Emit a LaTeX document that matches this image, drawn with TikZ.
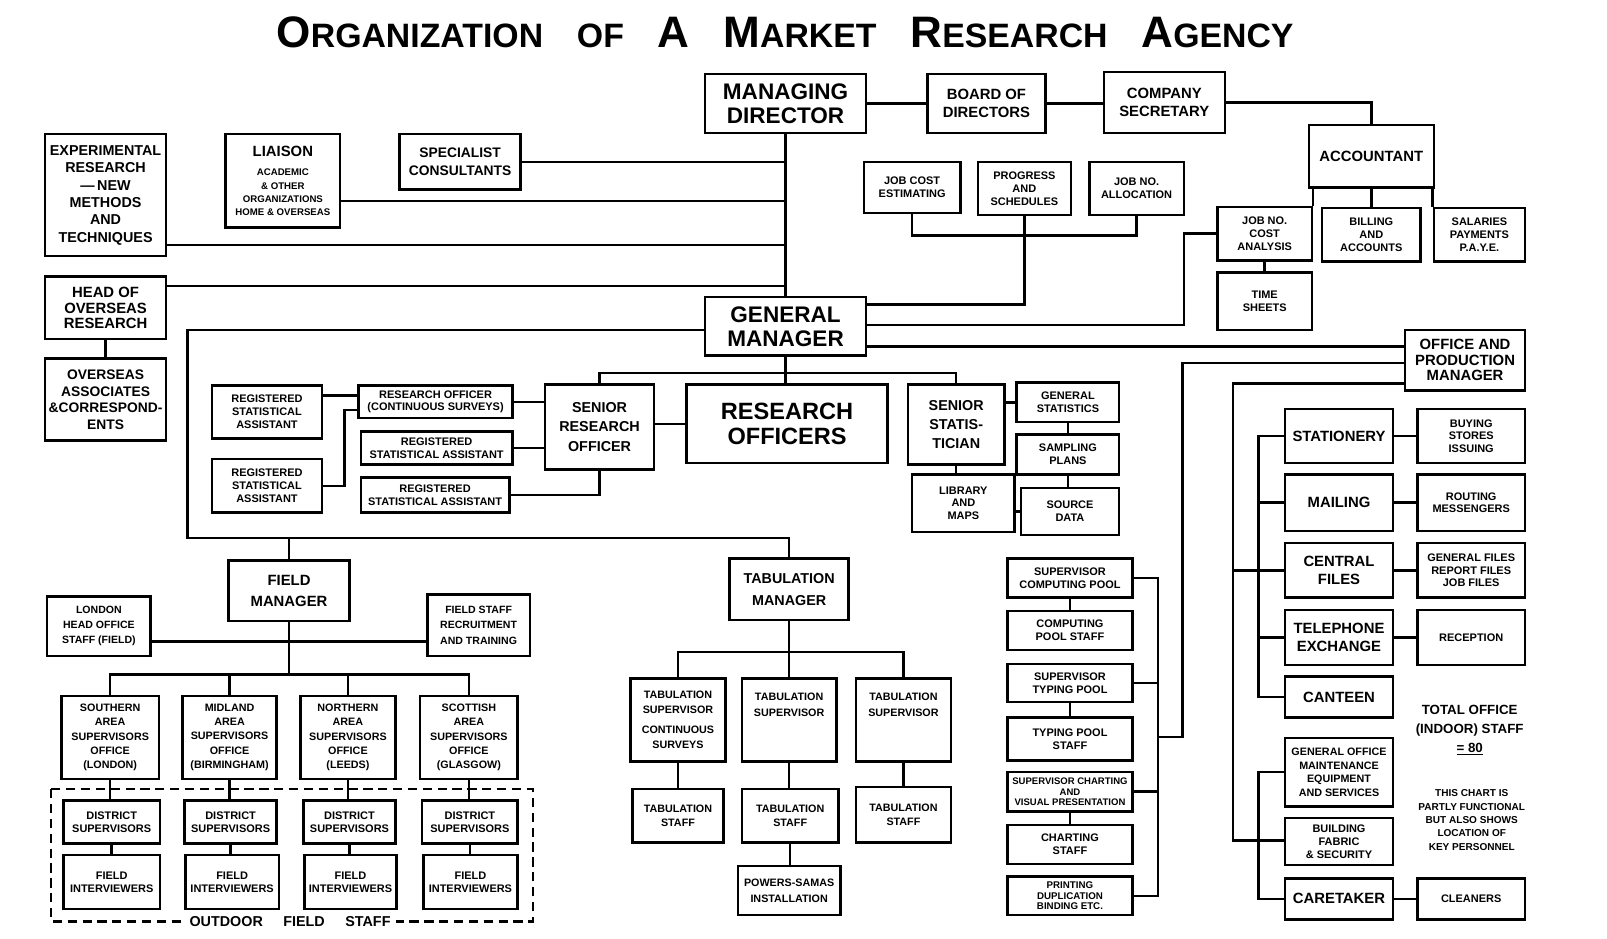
\documentclass[tikz,border=0pt]{standalone}
\usepackage{fontspec}
\setmainfont{Liberation Sans}
\newcommand\fbig{\fontsize{22}{23.5}\selectfont}
\newcommand\fmid{\fontsize{14.5}{17}\selectfont}
\newcommand\fsml{\fontsize{10.7}{12.5}\selectfont}
\newcommand\ftny{\fontsize{9.4}{13}\selectfont}
\newcommand\tcap[1]{{\fontsize{43}{43}\selectfont #1}}
\tikzset{
    box/.style={draw, line width=2.4pt, align=center, inner sep=1pt, font=\bfseries\fsml},
    bigtext/.style={font=\bfseries\fbig},
    midtext/.style={font=\bfseries\fmid},
    areabox/.style={box, font=\bfseries\fontsize{10.5}{13.8}\selectfont},
    sz/.style 2 args={minimum width=#1, minimum height=#2},
    link/.style={line width=2.4pt},
    fieldline/.style={line width=2.4pt, dash pattern=on 9pt off 5.5pt},
}

\begin{document}
\begin{tikzpicture}[x=1pt, y=-1pt]
    \path[use as bounding box, fill=white] (0,0) rectangle (1568,916);

    \node[font=\bfseries\fontsize{33}{33}\selectfont] (title) at (766,32)
        {\tcap{O}RGANIZATION\hspace{33pt}OF\hspace{33pt}\tcap{A}\hspace{33pt}\tcap{M}ARKET\hspace{33pt}\tcap{R}ESEARCH\hspace{33pt}\tcap{A}GENCY};

    % directors and accounts
    \node[box, bigtext, sz={157}{58}] (md) at (766.5,101) {MANAGING\\DIRECTOR};
    \node[box, midtext, sz={115}{58}] (board) at (962.5,101) {BOARD OF\\DIRECTORS};
    \node[box, midtext, sz={118}{60}] (cs) at (1136,100) {COMPANY\\SECRETARY};
    \node[box, midtext, sz={122}{61}] (acct) at (1338,152.5) {ACCOUNTANT};
    \node[box, sz={92}{52}] (jnc) at (1234,228) {JOB NO.\\COST\\ANALYSIS};
    \node[box, sz={96}{52}] (bill) at (1338,229) {BILLING\\AND\\ACCOUNTS};
    \node[box, sz={89}{52}] (sal) at (1443.5,229) {SALARIES\\PAYMENTS\\P.A.Y.E.};
    \node[box, sz={92}{56}] (tsh) at (1234,294) {TIME\\SHEETS};
    \node[box, sz={94}{50}] (jce) at (890,183) {JOB COST\\ESTIMATING};
    \node[box, sz={91}{52}] (prog) at (999.5,184) {PROGRESS\\AND\\SCHEDULES};
    \node[box, sz={92}{52}] (jna) at (1109,184) {JOB NO.\\ALLOCATION};

    % staff to the managing director
    \node[box, font=\bfseries\fontsize{13.5}{17}\selectfont, sz={118}{54}] (spec) at (449,158) {SPECIALIST\\CONSULTANTS};
    \node[box, font=\bfseries\ftny, sz={112}{91}] (lia) at (276,176.5) {{\fmid LIAISON}\\[6pt]ACADEMIC\\\& OTHER\\ORGANIZATIONS\\HOME \& OVERSEAS};
    \node[box, font=\bfseries\fontsize{14}{17}\selectfont, sz={118}{119}] (exp) at (103,190.5) {EXPERIMENTAL\\RESEARCH\\---\,NEW\\METHODS\\AND\\TECHNIQUES};
    \node[box, font=\bfseries\fontsize{14.5}{15.5}\selectfont, sz={118}{61}] (hoo) at (103,300.5) {HEAD OF\\OVERSEAS\\RESEARCH};
    \node[box, font=\bfseries\fontsize{13.5}{16}\selectfont, sz={118}{80}] (oa) at (103,390) {OVERSEAS\\ASSOCIATES\\\&CORRESPOND-\\ENTS};

    % research
    \node[box, bigtext, sz={157}{57}] (gm) at (766.5,318.5) {GENERAL\\MANAGER};
    \node[box, font=\bfseries\fontsize{23}{25}\selectfont, sz={196}{77}] (ro) at (768,413.5) {RESEARCH\\OFFICERS};
    \node[box, font=\bfseries\fontsize{14}{19}\selectfont, sz={106}{83}] (sro) at (585,416.5) {SENIOR\\RESEARCH\\OFFICER};
    \node[box, font=\bfseries\fontsize{14}{18.5}\selectfont, sz={94}{78}] (ss) at (933,414) {SENIOR\\STATIS-\\TICIAN};
    \node[box, sz={150}{32}] (roc) at (425,392) {RESEARCH OFFICER\\(CONTINUOUS SURVEYS)};
    \node[box, sz={148}{32}] (rsam) at (426,437) {REGISTERED\\STATISTICAL ASSISTANT};
    \node[box, sz={145}{34}] (rsab) at (424.5,483) {REGISTERED\\STATISTICAL ASSISTANT};
    \node[box, sz={107}{52}] (rsal1) at (260.5,402) {REGISTERED\\STATISTICAL\\ASSISTANT};
    \node[box, sz={107}{52}] (rsal2) at (260.5,474) {REGISTERED\\STATISTICAL\\ASSISTANT};
    \node[box, sz={100}{39}] (gs) at (1042,392.5) {GENERAL\\STATISTICS};
    \node[box, sz={100}{39}] (sp) at (1042,443.5) {SAMPLING\\PLANS};
    \node[box, sz={100}{56}] (lib) at (940,491) {LIBRARY\\AND\\MAPS};
    \node[box, sz={96}{46}] (sd) at (1044,499) {SOURCE\\DATA};

    % office
    \node[box, font=\bfseries\fontsize{14.5}{15}\selectfont, sz={117}{59}] (om) at (1429.5,351.5) {OFFICE AND\\PRODUCTION\\MANAGER};
    \node[box, midtext, sz={105}{53}] (stat) at (1306.5,425.5) {STATIONERY};
    \node[box, sz={105}{53}] (buy) at (1435.5,425.5) {BUYING\\STORES\\ISSUING};
    \node[box, midtext, sz={105}{55}] (mail) at (1306.5,490.5) {MAILING};
    \node[box, sz={105}{55}] (rout) at (1435.5,490.5) {ROUTING\\MESSENGERS};
    \node[box, midtext, sz={105}{53}] (cf) at (1306.5,556.5) {CENTRAL\\FILES};
    \node[box, sz={105}{53}] (gf) at (1435.5,556.5) {GENERAL FILES\\REPORT FILES\\JOB FILES};
    \node[box, midtext, sz={105}{54}] (tel) at (1306.5,622) {TELEPHONE\\EXCHANGE};
    \node[box, sz={105}{54}] (rec) at (1435.5,622) {RECEPTION};
    \node[box, midtext, sz={105}{40}] (can) at (1306.5,680) {CANTEEN};
    \node[box, font=\bfseries\fontsize{10.5}{13.5}\selectfont, sz={105}{67}] (gom) at (1306.5,753.5) {GENERAL OFFICE\\MAINTENANCE\\EQUIPMENT\\AND SERVICES};
    \node[box, sz={105}{46}] (bf) at (1306.5,821) {BUILDING\\FABRIC\\\& SECURITY};
    \node[box, midtext, sz={105}{40}] (ct) at (1306.5,877) {CARETAKER};
    \node[box, sz={105}{40}] (cln) at (1435.5,877) {CLEANERS};
    \node[font=\bfseries\fontsize{13}{18.5}\selectfont, align=center] (tot) at (1434,712) {TOTAL OFFICE\\(INDOOR) STAFF\\\underline{= 80}};
    \node[font=\bfseries\fontsize{9.8}{13}\selectfont, align=center] (note) at (1436,800) {THIS CHART IS\\PARTLY FUNCTIONAL\\BUT ALSO SHOWS\\LOCATION OF\\KEY PERSONNEL};

    % pools
    \node[box, sz={122}{38}] (scp) at (1044,564) {SUPERVISOR\\COMPUTING POOL};
    \node[box, sz={122}{38}] (cps) at (1044,615) {COMPUTING\\POOL STAFF};
    \node[box, sz={122}{37}] (stp) at (1044,666.5) {SUPERVISOR\\TYPING POOL};
    \node[box, sz={122}{42}] (tps) at (1044,721) {TYPING POOL\\STAFF};
    \node[box, font=\bfseries\fontsize{9.3}{10.5}\selectfont, sz={122}{39}] (sch) at (1044,772.5) {SUPERVISOR CHARTING\\AND\\VISUAL PRESENTATION};
    \node[box, sz={122}{38}] (chs) at (1044,824) {CHARTING\\STAFF};
    \node[box, font=\bfseries\fontsize{9.5}{10.5}\selectfont, sz={122}{38}] (pr) at (1044,874) {PRINTING\\DUPLICATION\\BINDING ETC.};

    % field
    \node[box, font=\bfseries\fontsize{14.5}{20}\selectfont, sz={118}{59}] (fm) at (282,576.5) {FIELD\\MANAGER};
    \node[box, font=\bfseries\fontsize{10.3}{14.5}\selectfont, sz={101}{58}] (lho) at (96.5,611) {LONDON\\HEAD OFFICE\\STAFF (FIELD)};
    \node[box, font=\bfseries\fontsize{10.3}{15}\selectfont, sz={100}{60}] (fsr) at (467,610) {FIELD STAFF\\RECRUITMENT\\AND TRAINING};
    \node[areabox, sz={95}{81}] (sa) at (107.5,719.5) {SOUTHERN\\AREA\\SUPERVISORS\\OFFICE\\(LONDON)};
    \node[areabox, sz={92}{81}] (ma) at (224,719.5) {MIDLAND\\AREA\\SUPERVISORS\\OFFICE\\(BIRMINGHAM)};
    \node[areabox, sz={93}{81}] (na) at (339.5,719.5) {NORTHERN\\AREA\\SUPERVISORS\\OFFICE\\(LEEDS)};
    \node[areabox, sz={95}{81}] (sca) at (457.5,719.5) {SCOTTISH\\AREA\\SUPERVISORS\\OFFICE\\(GLASGOW)};
    \node[box, sz={94}{42}] (ds1) at (109,802) {DISTRICT\\SUPERVISORS};
    \node[box, sz={90}{42}] (ds2) at (225,802) {DISTRICT\\SUPERVISORS};
    \node[box, sz={90}{42}] (ds3) at (341,802) {DISTRICT\\SUPERVISORS};
    \node[box, sz={93}{42}] (ds4) at (458.5,802) {DISTRICT\\SUPERVISORS};
    \node[box, sz={94}{53}] (fi1) at (109,860.5) {FIELD\\INTERVIEWERS};
    \node[box, sz={91}{53}] (fi2) at (226.5,860.5) {FIELD\\INTERVIEWERS};
    \node[box, sz={90}{53}] (fi3) at (342,860.5) {FIELD\\INTERVIEWERS};
    \node[box, sz={92}{53}] (fi4) at (459,860.5) {FIELD\\INTERVIEWERS};

    % tabulation
    \node[box, font=\bfseries\fontsize{14}{21}\selectfont, sz={116}{60}] (tm) at (770,575) {TABULATION\\MANAGER};
    \node[box, font=\bfseries\fontsize{10.5}{15}\selectfont, sz={93}{81}] (ts1) at (661.5,702.5) {TABULATION\\SUPERVISOR\\[4pt]CONTINUOUS\\SURVEYS};
    \node[box, font=\bfseries\fontsize{10.5}{15}\selectfont, text depth=30pt, sz={92}{81}] (ts2) at (770,702.5) {TABULATION\\SUPERVISOR};
    \node[box, font=\bfseries\fontsize{10.5}{15}\selectfont, text depth=30pt, sz={93}{81}] (ts3) at (881.5,702.5) {TABULATION\\SUPERVISOR};
    \node[box, font=\bfseries\fontsize{10.5}{14}\selectfont, sz={89}{52}] (tst1) at (661.5,796) {TABULATION\\STAFF};
    \node[box, font=\bfseries\fontsize{10.5}{14}\selectfont, sz={94}{52}] (tst2) at (771,796) {TABULATION\\STAFF};
    \node[box, font=\bfseries\fontsize{10.5}{14}\selectfont, sz={93}{54}] (tst3) at (881.5,795) {TABULATION\\STAFF};
    \node[box, font=\bfseries\fontsize{10.5}{16}\selectfont, sz={100}{48}] (ps) at (770,869) {POWERS-SAMAS\\INSTALLATION};

    \coordinate (jbus) at (0,230);
    \coordinate (pbus) at (0,297);
    \coordinate (gbus) at (0,317);
    \coordinate (obus) at (0,338);
    \coordinate (jbend) at (1155,0);
    \coordinate (lbus) at (183,525);
    \coordinate (rbus) at (0,364);
    \coordinate (rj) at (336,400);
    \coordinate (cj) at (1154,719);
    \coordinate (cv) at (1130,0);
    \coordinate (ov) at (1203,820);
    \coordinate (iv) at (1228,0);
    \coordinate (fbus) at (0,658);
    \coordinate (tbus) at (0,636);

    \draw[link] (md) -- (board);
    \draw[link] (board.east) -- (board.east -| cs.west);
    \draw[link] (cs.east) -| (acct.north);
    \draw[link] (jnc.north east) -- (jnc.north east |- acct.south);
    \draw[link] (acct.south) -- (bill.north);
    \draw[link] (sal.north west) -- (sal.north west |- acct.south);
    \draw[link] (jnc) -- (tsh);
    \draw[link] (jce.south) -- (jce.south |- jbus) -- (jna.south |- jbus) -- (jna.south);
    \draw[link] (prog.south) |- (gm.east |- pbus);
    \draw[link] (gm.east |- gbus) -| (jbend |- jnc.west) -- (jnc.west);
    \draw[link] (gm.east |- obus) -- (om.west |- obus);
    \draw[link] (md) -- (gm);
    \draw[link] (spec.east) -- (spec.east -| md);
    \draw[link] (lia.east |- 0,196) -- (md |- 0,196);
    \draw[link] (exp.east |- 0,239) -- (md |- 0,239);
    \draw[link] (hoo.east |- 0,279) -- (md |- 0,279);
    \draw[link] (hoo) -- (oa);

    \draw[link] (gm.west |- 0,322) -| (lbus) -| (tm.north);
    \draw[link] (fm.north) -- (fm.north |- lbus);
    \draw[link] (sro.north) -- (sro.north |- rbus) -- (ss.north |- rbus) -- (ss.north);
    \draw[link] (gm.south) -- (gm.south |- ro.north);
    \draw[link] (sro.east |- ro.west) -- (ro.west);
    \draw[link] (roc.east) -- (roc.east -| sro.west);
    \draw[link] (rsam.east) -- (rsam.east -| sro.west);
    \draw[link] (rsab.east) -| (sro.south);
    \draw[link] (rsal1.east |- 0,386) -- (roc.west |- 0,386);
    \draw[link] (rsal2.east) -| (rj) -- (rj -| roc.west);
    \draw[link] (gs.west) -- (gs.west -| ss.east);
    \draw[link] (gs) -- (sp);
    \draw[link] (sp.south) -- (sp.south |- sd.north);
    \draw[link] (ss.south) -- (ss.south |- lib.north);
    \draw[link] (lib.east |- sd.west) -- (sd.west);

    \draw[link] (om.west |- 0,354) -| (cj) -- (cj -| cv);
    \draw[link] (scp.east) -- (scp.east -| cv) -- (pr.east -| cv) -- (pr.east);
    \draw[link] (stp.east) -- (stp.east -| cv);
    \draw[link] (sch.east) -- (sch.east -| cv);
    \draw[link] (scp) -- (cps);
    \draw[link] (stp) -- (tps);
    \draw[link] (sch) -- (chs);
    \draw[link] (om.west |- 0,374) -| (ov) -- (ov -| bf.west);
    \draw[link] (cf.west) -- (cf.west -| ov);
    \draw[link] (stat.west) -- (stat.west -| iv) -- (can.west -| iv) -- (can.west);
    \draw[link] (mail.west) -- (mail.west -| iv);
    \draw[link] (tel.west) -- (tel.west -| iv);
    \draw[link] (gom.west) -- (gom.west -| iv) -- (ct.west -| iv) -- (ct.west);
    \draw[link] (stat) -- (buy);
    \draw[link] (mail) -- (rout);
    \draw[link] (cf) -- (gf);
    \draw[link] (tel) -- (rec);
    \draw[link] (ct) -- (cln);

    \draw[link] (lho.east |- 0,626) -- (fsr.west |- 0,626);
    \draw[link] (fm.south) -- (fm.south |- fbus);
    \draw[link] (sa.north) -- (sa.north |- fbus) -- (sca.north |- fbus) -- (sca.north);
    \draw[link] (ma.north) -- (ma.north |- fbus);
    \draw[link] (na.north) -- (na.north |- fbus);
    \draw[link] (sa.south) -- (sa.south |- ds1.north);
    \draw[link] (ma.south) -- (ma.south |- ds2.north);
    \draw[link] (na.south) -- (na.south |- ds3.north);
    \draw[link] (sca.south) -- (sca.south |- ds4.north);
    \draw[link] (ds1.south) -- (ds1.south |- fi1.north);
    \draw[link] (ds2.south) -- (ds2.south |- fi2.north);
    \draw[link] (ds3.south) -- (ds3.south |- fi3.north);
    \draw[link] (ds4.south) -- (ds4.south |- fi4.north);
    \draw[fieldline] (50,770) rectangle (520,899);
    \node[fill=white, font=\bfseries\fontsize{14}{14}\selectfont, inner xsep=5pt, inner ysep=2pt] (ofs) at (283,899) {OUTDOOR\hspace{20pt}FIELD\hspace{20pt}STAFF};

    \draw[link] (tm.south) -- (tm.south |- tbus);
    \draw[link] (ts1.north) -- (ts1.north |- tbus) -- (ts3.north |- tbus) -- (ts3.north);
    \draw[link] (ts2.north) -- (ts2.north |- tbus);
    \draw[link] (ts1) -- (tst1);
    \draw[link] (ts2.south) -- (ts2.south |- tst2.north);
    \draw[link] (ts3) -- (tst3);
    \draw[link] (tst2.south) -- (tst2.south |- ps.north);
\end{tikzpicture}
\end{document}
